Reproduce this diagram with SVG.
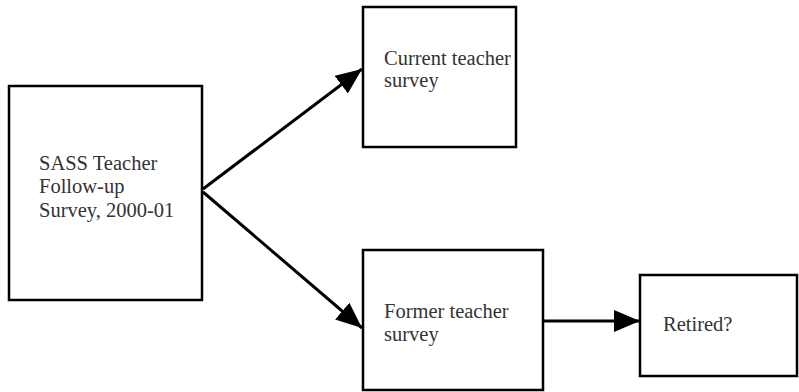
<svg xmlns="http://www.w3.org/2000/svg" width="799" height="392" viewBox="0 0 799 392">
<style>
.box{fill:#fff;stroke:#000;stroke-width:2.5}
.t{font-family:"Liberation Serif",serif;font-size:20.5px;fill:#333}
.c{stroke:#000;stroke-width:3;fill:none}
</style>
<defs>
<marker id="ahb" viewBox="0 0 26 22" refX="26" refY="11" markerWidth="26" markerHeight="22" orient="auto" markerUnits="userSpaceOnUse">
<path d="M0,0 L26,11 L0,22 Z" fill="#000"/>
</marker>
</defs>
<g id="connectors">
<line class="c" x1="203" y1="189" x2="362" y2="69" marker-end="url(#ahb)"/>
<line class="c" x1="203" y1="192" x2="362" y2="328" marker-end="url(#ahb)"/>
<line class="c" x1="543" y1="321" x2="640" y2="321" marker-end="url(#ahb)"/>
</g>
<g id="sass">
<rect class="box" x="9" y="86" width="193" height="214"/>
<text class="t" x="39" y="170">SASS Teacher</text>
<text class="t" x="39" y="193">Follow-up</text>
<text class="t" x="39" y="217">Survey, 2000-01</text>
</g>
<g id="current">
<rect class="box" x="363" y="7" width="153" height="140"/>
<text class="t" x="384" y="65">Current teacher</text>
<text class="t" x="384" y="87">survey</text>
</g>
<g id="former">
<rect class="box" x="363" y="250" width="180" height="140"/>
<text class="t" x="384" y="318">Former teacher</text>
<text class="t" x="384" y="341">survey</text>
</g>
<g id="retired">
<rect class="box" x="640" y="275" width="157" height="101"/>
<text class="t" x="663" y="331">Retired?</text>
</g>
</svg>
